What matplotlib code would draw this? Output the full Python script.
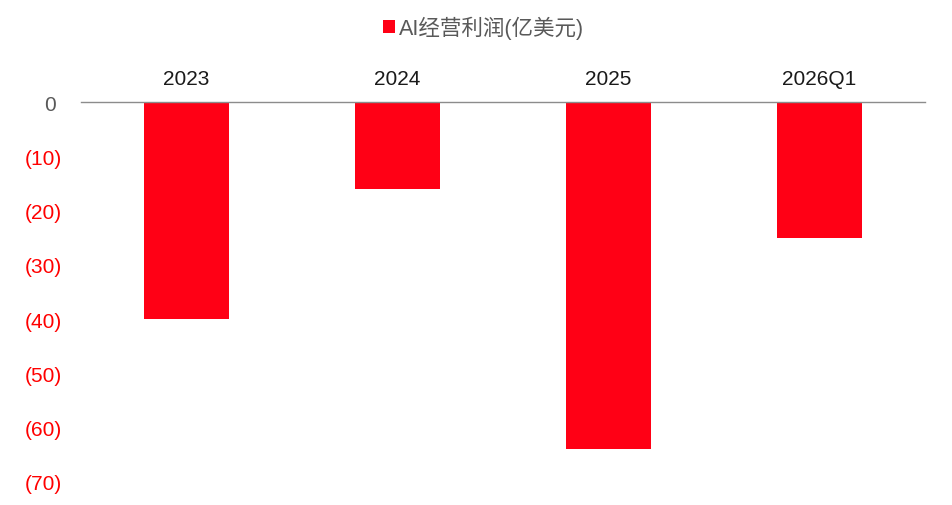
import matplotlib
matplotlib.use("Agg")
import matplotlib.pyplot as plt
from matplotlib.patches import Patch

plt.rcParams['font.family'] = ['Liberation Sans', 'Noto Sans CJK SC', 'DejaVu Sans']

categories = ["2023", "2024", "2025", "2026Q1"]
values = [-40, -16, -64, -25]
yticks = [0, -10, -20, -30, -40, -50, -60, -70]
ytick_labels = ["0 ", "(10)", "(20)", "(30)", "(40)", "(50)", "(60)", "(70)"]
series_name = "AI经营利润(亿美元)"

bar_color = "#FF0015"

fig = plt.figure(figsize=(9.52, 5.06), dpi=100)
ax = fig.add_axes([0.0851, 0.0455, 0.8865, 0.7509])

x = list(range(len(categories)))
ax.bar(x, values, width=0.405, color=bar_color, zorder=2)

ax.set_xlim(-0.5, len(categories) - 0.5)
ax.set_ylim(-70, 0)

for s in ["left", "right", "bottom"]:
    ax.spines[s].set_visible(False)
ax.spines["top"].set_color("#8C8C8C")
ax.spines["top"].set_linewidth(1.0)
ax.spines["top"].set_zorder(3)

ax.xaxis.tick_top()
ax.set_xticks(x)
ax.set_xticklabels(categories, fontsize=15, color="#1A1A1A")
ax.tick_params(axis="x", length=0, pad=10)

ax.set_yticks(yticks)
ax.set_yticklabels(ytick_labels, fontsize=15)
ax.tick_params(axis="y", length=0, pad=13.5)
for lbl, v in zip(ax.get_yticklabels(), yticks):
    lbl.set_color("#595959" if v == 0 else "#FF0000")

handles = [Patch(facecolor=bar_color, edgecolor="none")]
fig.legend(handles, [series_name], loc="center", bbox_to_anchor=(0.508, 0.943),
           frameon=False, fontsize=15.5, handlelength=0.55, handleheight=0.55,
           handletextpad=0.2, labelcolor="#595959")

fig.savefig("out.png", dpi=100)
